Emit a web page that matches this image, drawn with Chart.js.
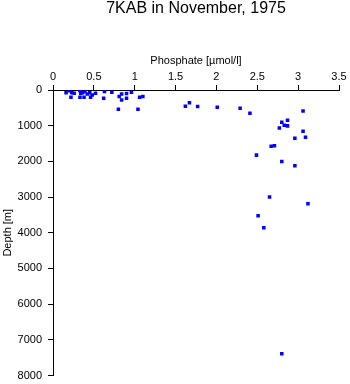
<!DOCTYPE html>
<html>
<head>
<meta charset="utf-8">
<script src="https://cdn.jsdelivr.net/npm/chart.js@4/dist/chart.umd.min.js"></script>
<style>
html,body{margin:0;padding:0;background:#fff;}
#wrap{width:350px;height:384px;}
</style>
</head>
<body>
<div id="wrap"><canvas id="c" width="350" height="384"></canvas></div>
<script>
const chartTitle = "7KAB in November, 1975";
const xAxisTitle = "Phosphate [\u00b5mol/l]";
const yAxisTitle = "Depth [m]";
const phosphate = [0.16,0.20,0.23,0.26,0.33,0.34,0.36,0.39,0.42,0.45,0.48,0.52,0.22,0.33,0.38,0.46,0.63,0.62,0.72,0.81,0.84,0.84,0.90,0.90,0.96,0.80,1.04,1.06,1.10,1.62,1.67,1.77,2.01,2.29,2.41,3.06,2.87,2.80,2.83,2.87,2.77,3.06,3.09,2.96,2.67,2.71,2.49,2.80,2.96,2.65,3.12,2.51,2.58,2.80];
const depth = [75,20,75,90,20,90,75,50,110,75,140,90,205,205,205,205,45,230,65,185,110,280,100,230,65,540,540,205,185,455,360,465,485,510,650,590,850,905,990,1005,1065,1155,1325,1350,1575,1565,1825,2005,2125,3000,3190,3525,3860,7390];
const xTicks = [0,0.5,1,1.5,2,2.5,3,3.5];
const yTicks = [0,1000,2000,3000,4000,5000,6000,7000,8000];

const points = phosphate.map((p,i)=>({x:p,y:depth[i]}));
const FONT = "'Liberation Sans', Arial, Helvetica, sans-serif";

new Chart(document.getElementById('c'), {
  type: 'scatter',
  data: { datasets: [{ data: points, pointStyle: 'rect', pointRadius: 2.5, pointBorderWidth: 0, backgroundColor: '#0000ff', borderColor: '#0000ff' }] },
  options: {
    responsive: false,
    animation: false,
    devicePixelRatio: 1,
    layout: { padding: { left: 0, top: 0, right: 11, bottom: 8.5 } },
    plugins: {
      legend: { display: false },
      tooltip: { enabled: false },
      title: { display: true, fullSize: false, text: chartTitle, color: '#000', font: { family: FONT, size: 16, weight: 'normal', lineHeight: 1 }, padding: { top: 1, bottom: 0 } }
    },
    scales: {
      x: {
        type: 'linear', position: 'top', min: 0, max: 3.5,
        afterBuildTicks: s => { s.ticks = xTicks.map(v => ({value: v})); },
        afterFit: s => { s.height = 73; },
        ticks: { color: '#000', font: { family: FONT, size: 11 }, padding: 1.5, maxRotation: 0, callback: v => String(v) },
        grid: { display: true, drawOnChartArea: false, drawTicks: true, tickLength: 5, color: '#000', lineWidth: 1 },
        border: { display: true, color: '#000', width: 1 },
        title: { display: true, text: xAxisTitle, color: '#000', font: { family: FONT, size: 11 }, padding: { top: 37, bottom: 0 } }
      },
      y: {
        type: 'linear', position: 'left', reverse: true, min: 0, max: 8000,
        afterBuildTicks: s => { s.ticks = yTicks.map(v => ({value: v})); },
        afterFit: s => { s.width = 53; s.paddingTop = 0; s.paddingBottom = 0; },
        ticks: { color: '#000', font: { family: FONT, size: 11 }, padding: 6, callback: v => String(v) },
        grid: { display: true, drawOnChartArea: false, drawTicks: true, tickLength: 5, color: '#000', lineWidth: 1 },
        border: { display: true, color: '#000', width: 1 },
        title: { display: true, text: yAxisTitle, color: '#000', font: { family: FONT, size: 11 }, padding: { top: 1, bottom: 0 } }
      }
    }
  }
});
</script>
</body>
</html>
